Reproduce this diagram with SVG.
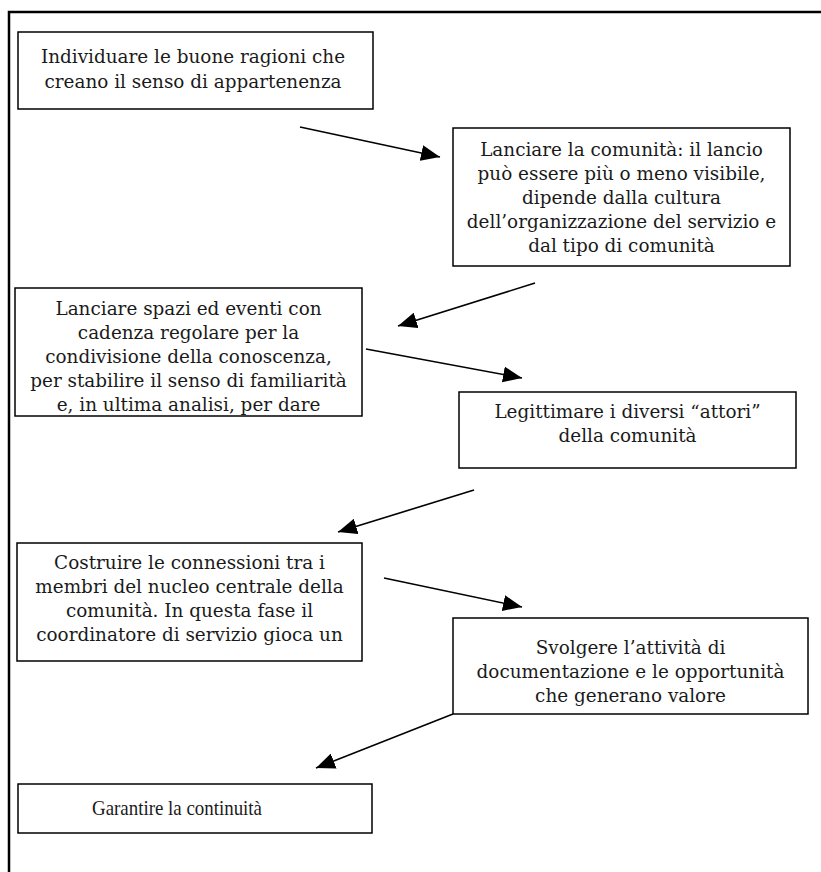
<svg xmlns="http://www.w3.org/2000/svg" width="821" height="872" viewBox="0 0 821 872">
<style>
.box{fill:#fff;stroke:#000;stroke-width:1.5}
.t{font-family:"DejaVu Serif","Liberation Serif",serif;font-size:18.4px;fill:#1a1a1a;text-anchor:middle}
.n{font-family:"Liberation Serif","DejaVu Serif",serif;font-size:22px;fill:#1a1a1a}
.c{stroke:#000;stroke-width:1.6;fill:none;marker-end:url(#ah)}
.frame{stroke:#000;stroke-width:2.5;fill:none}
</style>
<defs>
<marker id="ah" markerUnits="userSpaceOnUse" markerWidth="20" markerHeight="16" refX="19" refY="8" orient="auto">
<path d="M0,0 L19,8 L0,16 z" fill="#000"/>
</marker>
</defs>
<rect width="821" height="872" fill="#fff"/>
<path class="frame" d="M9,872 V12 H821"/>
<g id="n1"><rect class="box" x="18" y="32" width="355" height="77"/>
<text class="t" x="193" y="63">Individuare le buone ragioni che</text>
<text class="t" x="193" y="88">creano il senso di appartenenza</text></g>
<g id="n2"><rect class="box" x="453" y="128" width="337" height="138"/>
<text class="t" x="621.5" y="156">Lanciare la comunità: il lancio</text>
<text class="t" x="621.5" y="180">può essere più o meno visibile,</text>
<text class="t" x="621.5" y="204">dipende dalla cultura</text>
<text class="t" x="621.5" y="228">dell’organizzazione del servizio e</text>
<text class="t" x="621.5" y="252">dal tipo di comunità</text></g>
<g id="n3"><rect class="box" x="15" y="288" width="347" height="128"/>
<text class="t" x="188.5" y="315">Lanciare spazi ed eventi con</text>
<text class="t" x="188.5" y="339">cadenza regolare per la</text>
<text class="t" x="188.5" y="363">condivisione della conoscenza,</text>
<text class="t" x="188.5" y="387">per stabilire il senso di familiarità</text>
<text class="t" x="188.5" y="411">e, in ultima analisi, per dare</text></g>
<g id="n4"><rect class="box" x="459" y="392" width="337" height="76"/>
<text class="t" x="627.5" y="418">Legittimare i diversi “attori”</text>
<text class="t" x="627.5" y="442">della comunità</text></g>
<g id="n5"><rect class="box" x="17" y="543" width="345" height="118"/>
<text class="t" x="189.5" y="569">Costruire le connessioni tra i</text>
<text class="t" x="189.5" y="593">membri del nucleo centrale della</text>
<text class="t" x="189.5" y="617">comunità. In questa fase il</text>
<text class="t" x="189.5" y="641">coordinatore di servizio gioca un</text></g>
<g id="n6"><rect class="box" x="453" y="618" width="355" height="96"/>
<text class="t" x="630.5" y="654">Svolgere l’attività di</text>
<text class="t" x="630.5" y="678">documentazione e le opportunità</text>
<text class="t" x="630.5" y="702">che generano valore</text></g>
<g id="n7"><rect class="box" x="18" y="784" width="354" height="49"/>
<text class="n" x="92" y="815" textLength="170" lengthAdjust="spacingAndGlyphs">Garantire la continuità</text></g>
<g id="connectors">
<line class="c" x1="300" y1="127" x2="440" y2="157"/>
<line class="c" x1="535" y1="283" x2="398" y2="326"/>
<line class="c" x1="366" y1="349" x2="522" y2="378"/>
<line class="c" x1="474" y1="490" x2="338" y2="532"/>
<line class="c" x1="384" y1="578" x2="522" y2="607"/>
<line class="c" x1="453" y1="714" x2="316" y2="768"/>
</g>
</svg>
